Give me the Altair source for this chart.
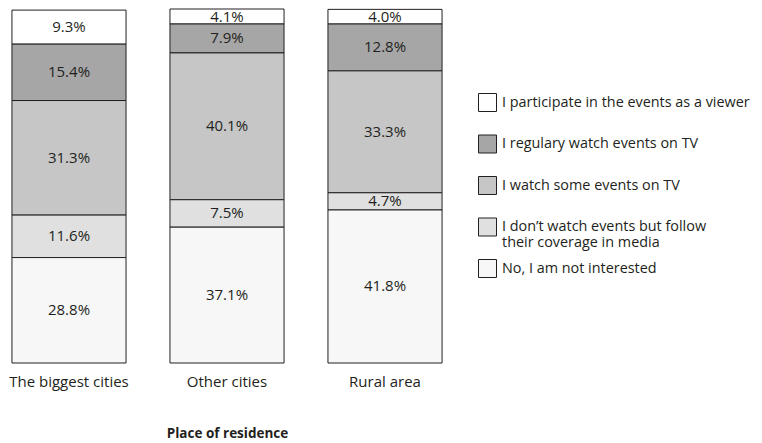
import altair as alt
import pandas as pd

places = ["The biggest cities", "Other cities", "Rural area"]
answers = [
    "I participate in the events as a viewer",
    "I regulary watch events on TV",
    "I watch some events on TV",
    "I don’t watch events but follow their coverage in media",
    "No, I am not interested",
]
biggest = [9.3, 15.4, 31.3, 11.6, 28.8]
other = [4.1, 7.9, 40.1, 7.5, 37.1]
rural = [4.0, 12.8, 33.3, 4.7, 41.8]
colors = ["#ffffff", "#a6a6a6", "#c6c6c6", "#e0e0e0", "#f7f7f7"]

rows = []
for place, vals in zip(places, [biggest, other, rural]):
    for i, (a, v) in enumerate(zip(answers, vals)):
        rows.append({"place": place, "answer": a, "value": v, "ord": len(answers) - i})
df = pd.DataFrame(rows)

FONT = "Open Sans"
TXT = "#231f20"
ymax = max(sum(biggest), sum(other), sum(rural))

base = alt.Chart(df).transform_stack(
    stack="value", groupby=["place"], as_=["y0", "y1"],
    sort=[alt.SortField("ord", order="ascending")]
).transform_calculate(
    mid="(datum.y0 + datum.y1) / 2",
    lab="format(datum.value, '.1f') + '%'"
)

xenc = alt.X("place:N", sort=places,
             scale=alt.Scale(paddingInner=0.278, paddingOuter=0.025),
             axis=alt.Axis(title="Place of residence", labelAngle=0, domain=False, ticks=False,
                           labelPadding=11, labelFontSize=15, labelFont=FONT, labelColor=TXT,
                           titleFont=FONT, titleFontSize=13.5, titleFontWeight="bold", titleColor=TXT,
                           titlePadding=37))

yscale = alt.Scale(domain=[0, ymax], nice=False, zero=True)

bars = base.mark_bar(stroke="#231f20", strokeWidth=1).encode(
    x=xenc,
    y=alt.Y("y0:Q", scale=yscale, axis=None),
    y2="y1:Q",
    color=alt.Color("answer:N", sort=answers,
                    scale=alt.Scale(domain=answers, range=colors),
                    legend=alt.Legend(title=None, orient="none", legendX=470, legendY=84,
                                      symbolType="square", symbolSize=324, symbolStrokeColor="#231f20",
                                      symbolStrokeWidth=1, symbolOpacity=1,
                                      labelFont=FONT, labelFontSize=14.4, labelColor=TXT, labelLimit=400,
                                      labelOffset=5, rowPadding=6.5, gridAlign="all", padding=0,
                                      labelExpr="indexof(datum.label, 'follow') >= 0 ? ['I don’t watch events but follow', 'their coverage in media'] : datum.label")),
)

texts = base.mark_text(font=FONT, fontSize=15, color=TXT).encode(
    x=alt.X("place:N", sort=places),
    y=alt.Y("mid:Q", scale=yscale, axis=None),
    text="lab:N",
)

chart = alt.layer(bars, texts).properties(
    width=438, height=354,
    padding={"left": 0, "top": 1, "right": 308, "bottom": 80},
    autosize=alt.AutoSizeParams(type="none"),
    background="white"
).configure_view(stroke=None)

chart.save("out.html", embed_options={"renderer": "svg", "actions": False})
